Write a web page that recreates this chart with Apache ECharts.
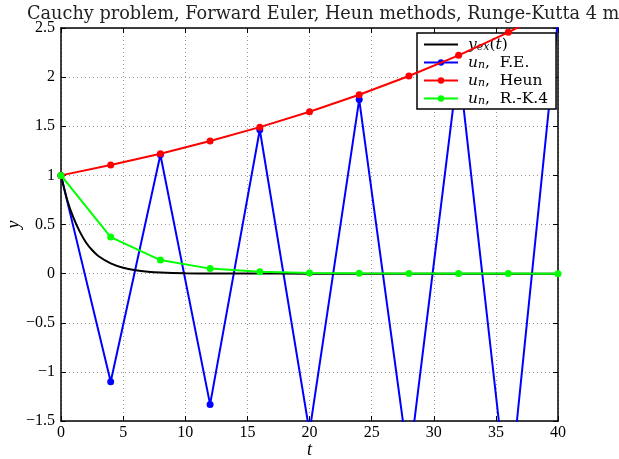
<!DOCTYPE html>
<html><head><meta charset="utf-8">
<script src="https://cdn.jsdelivr.net/npm/echarts@6/dist/echarts.min.js"></script>
<style>html,body{margin:0;padding:0;background:#fff}#c{width:619px;height:459px}</style>
</head><body><div id="c"></div>
<script>
const titleText = 'Cauchy problem, Forward Euler, Heun methods, Runge-Kutta 4 method';
const tSteps = [0, 4, 8, 12, 16, 20, 24, 28, 32, 36, 40];
const feValues = [1, -1.1, 1.21, -1.331, 1.4641, -1.6105, 1.7716, -1.9487, 2.1436, -2.3579, 2.5937];
const heunValues = [1, 1.105, 1.221, 1.349, 1.491, 1.647, 1.820, 2.011, 2.222, 2.456, 2.714];
const rk4Values = [1, 0.372, 0.138, 0.051, 0.019, 0.007, 0.003, 0.001, 0.0004, 0.0001, 0.0];
const tExact = [0, 0.5, 1, 1.5, 2, 2.5, 3, 4, 5, 6, 7, 8, 10, 12, 15, 20, 25, 30, 35, 40];
const yExact = [1, 0.75, 0.57, 0.43, 0.32, 0.24, 0.18, 0.105, 0.06, 0.034, 0.019, 0.011, 0.0035, 0.001, 0.0002, 0, 0, 0, 0, 0];
const xTicks = {min: 0, max: 40, step: 5};
const yTicks = {min: -1.5, max: 2.5, step: 0.5};
const seriesNames = ['yex', 'fe', 'heun', 'rk4'];

const pair = (xs, ys) => xs.map((x, i) => [x, ys[i]]);
const serif = 'Liberation Serif';
const dserif = 'DejaVu Serif';
const chart = echarts.init(document.getElementById('c'), null, {renderer: 'canvas'});
const fmtNum = v => String(v).replace('-', '\u2212');
const legendLabels = {
  yex: '{g|}{i|y}{s|ex}{n|(}{i|t}{n|)}',
  fe: '{g|}{i|u}{s|n}{n|,  F.E.}',
  heun: '{g|}{i|u}{s|n}{n|,  Heun}',
  rk4: '{g|}{i|u}{s|n}{n|,  R.-K.4}'
};
const lineIcon = 'path://M0,0 L0.001,0 L0,0.001 Z M0,3.1 L34,3.1 L34,4.9 L0,4.9 Z M0,8 L0.001,8 L0,7.999 Z';
const gridLine = {show: true, lineStyle: {color: '#999', type: [1, 3], width: 1}};
const axisBase = {
  type: 'value',
  nameMoveOverlap: false,
  axisLine: {show: true, onZero: false, lineStyle: {color: '#000', width: 1.5}},
  axisTick: {show: true, inside: true, length: 5, lineStyle: {color: '#000', width: 1}},
};
chart.setOption({
  animation: false,
  backgroundColor: '#fff',
  title: {text: titleText, left: 22, top: 0,
    textStyle: {fontFamily: dserif, fontSize: 17.7, fontWeight: 'normal', color: '#222'}},
  grid: {left: 61, right: 61, top: 28, bottom: 38, containLabel: false, outerBoundsMode: 'none'},
  legend: {
    data: [{name: 'yex', icon: lineIcon}, 'fe', 'heun', 'rk4'],
    orient: 'vertical', left: 417, top: 33,
    backgroundColor: '#fff', borderColor: '#000', borderWidth: 1.5, borderRadius: 0,
    padding: [3, 8, 2, 6], itemGap: 1, itemWidth: 34, itemHeight: 8,
    formatter: n => legendLabels[n],
    textStyle: {
      fontFamily: dserif, fontSize: 15.5, color: '#000', lineHeight: 17,
      rich: {
        g: {width: 5, lineHeight: 17},
        i: {fontFamily: dserif, fontStyle: 'italic', fontSize: 15.5, lineHeight: 17, verticalAlign: 'middle'},
        s: {fontFamily: dserif, fontStyle: 'italic', fontSize: 11, lineHeight: 11, verticalAlign: 'bottom'},
        n: {fontFamily: dserif, fontSize: 15.5, lineHeight: 17, verticalAlign: 'middle'}
      }
    }
  },
  xAxis: [
    Object.assign({}, axisBase, {min: xTicks.min, max: xTicks.max, interval: xTicks.step, position: 'bottom',
      name: 't', nameLocation: 'middle', nameGap: 20,
      nameTextStyle: {fontFamily: serif, fontStyle: 'italic', fontSize: 18, color: '#000'},
      axisLabel: {fontFamily: serif, fontSize: 16, color: '#000', margin: 4, formatter: fmtNum},
      splitLine: gridLine}),
    Object.assign({}, axisBase, {min: xTicks.min, max: xTicks.max, interval: xTicks.step, position: 'top',
      axisLabel: {show: false}, splitLine: {show: false}})
  ],
  yAxis: [
    Object.assign({}, axisBase, {min: yTicks.min, max: yTicks.max, interval: yTicks.step, position: 'left',
      name: 'y', nameLocation: 'middle', nameGap: 38, nameRotate: 90,
      nameTextStyle: {fontFamily: serif, fontStyle: 'italic', fontSize: 18, color: '#000'},
      axisLabel: {fontFamily: serif, fontSize: 16, color: '#000', margin: 6, formatter: fmtNum},
      splitLine: gridLine}),
    Object.assign({}, axisBase, {min: yTicks.min, max: yTicks.max, interval: yTicks.step, position: 'right',
      axisLabel: {show: false}, splitLine: {show: false}})
  ],
  series: [
    {name: 'yex', type: 'line', data: pair(tExact, yExact), smooth: 0.3, showSymbol: false, symbol: 'none',
      lineStyle: {color: '#000', width: 2}, itemStyle: {color: '#000'}, z: 3},
    {name: 'fe', type: 'line', data: pair(tSteps, feValues), symbol: 'circle', symbolSize: 7,
      lineStyle: {color: '#0000ff', width: 2}, itemStyle: {color: '#0000ff'}, z: 2},
    {name: 'heun', type: 'line', data: pair(tSteps, heunValues), symbol: 'circle', symbolSize: 7,
      lineStyle: {color: '#ff0000', width: 2}, itemStyle: {color: '#ff0000'}, z: 4},
    {name: 'rk4', type: 'line', data: pair(tSteps, rk4Values), symbol: 'circle', symbolSize: 7,
      lineStyle: {color: '#00ff00', width: 2}, itemStyle: {color: '#00ff00'}, z: 5}
  ]
});
</script>
</body></html>
